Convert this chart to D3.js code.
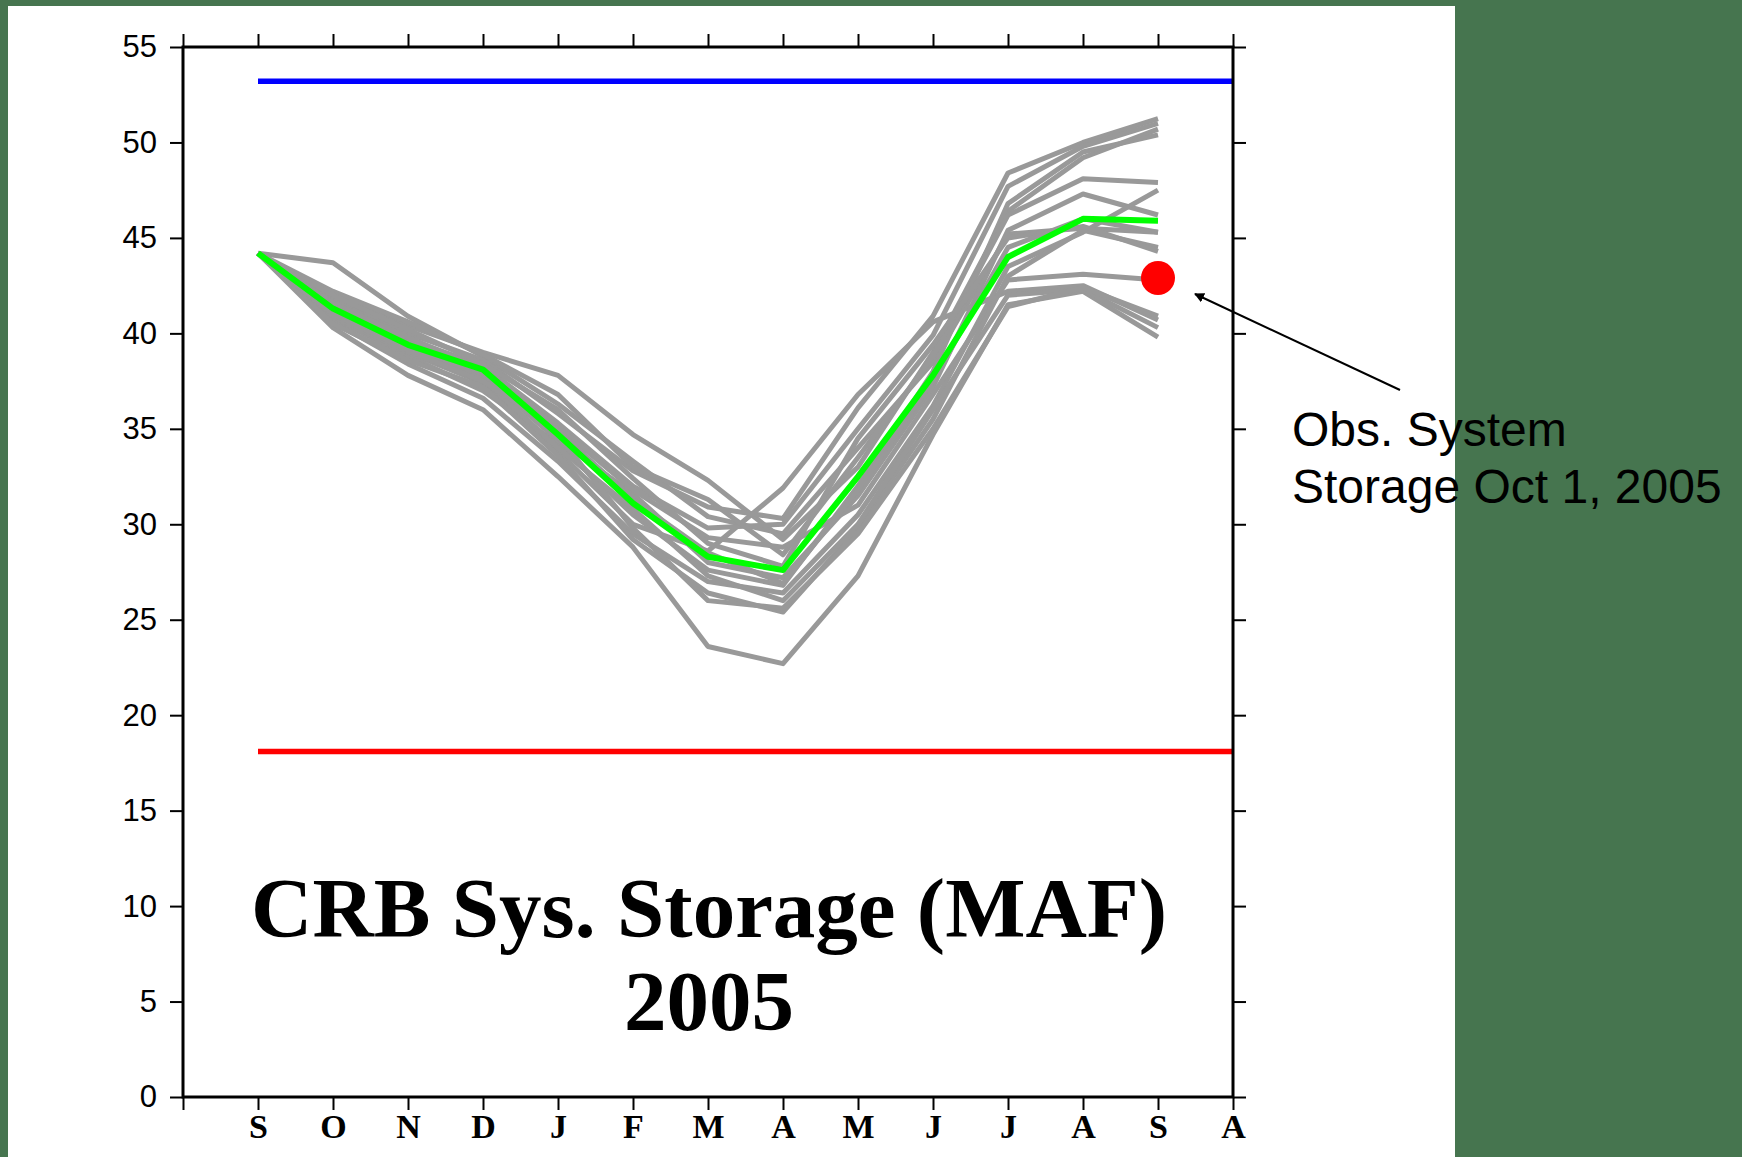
<!DOCTYPE html>
<html>
<head>
<meta charset="utf-8">
<script src="https://cdn.jsdelivr.net/npm/d3@7"></script>
<style>
  html, body { margin: 0; padding: 0; background: #46754f; }
  svg { display: block; }
</style>
</head>
<body>
<svg id="chart" width="1742" height="1157"></svg>
<script>
// Month labels along the x axis (Sep through the following Aug)
const months = ["S", "O", "N", "D", "J", "F", "M", "A", "M", "J", "J", "A", "S", "A"];
const yTicks = [0, 5, 10, 15, 20, 25, 30, 35, 40, 45, 50, 55];

// Ensemble traces of system storage (MAF), Sep .. Sep
const ens01 = [44.2, 43.7, 40.9, 38.8, 36.3, 33.3, 30.4, 29.5, 34.0, 38.5, 45.2, 45.5, 45.3];
const ens02 = [44.2, 42.0, 40.4, 39.0, 37.8, 34.7, 32.3, 29.2, 33.0, 39.0, 46.4, 49.2, 50.7];
const ens03 = [44.2, 40.3, 37.8, 36.0, 32.5, 28.8, 23.6, 22.7, 27.3, 34.7, 41.5, 42.2, 39.8];
const ens04 = [44.2, 41.0, 39.0, 37.4, 33.8, 30.0, 28.6, 31.9, 36.8, 40.6, 42.2, 42.5, 40.7];
const ens05 = [44.2, 41.8, 40.0, 38.6, 35.8, 32.8, 30.9, 30.3, 36.1, 40.9, 48.4, 50.0, 51.25];
const ens06 = [44.2, 41.5, 39.7, 38.3, 35.3, 32.0, 29.8, 30.0, 35.0, 39.9, 47.7, 49.8, 51.0];
const ens07 = [44.2, 40.8, 38.8, 37.0, 34.2, 30.5, 27.6, 26.8, 32.0, 38.0, 46.8, 49.5, 50.4];
const ens08 = [44.2, 42.2, 40.6, 38.9, 36.8, 33.0, 31.3, 28.4, 33.5, 38.8, 46.2, 48.1, 47.9];
const ens09 = [44.2, 41.2, 39.2, 37.8, 34.4, 31.6, 28.0, 27.2, 31.5, 37.2, 45.4, 47.3, 46.2];
const ens10 = [44.2, 40.6, 38.4, 36.6, 33.3, 29.5, 27.0, 26.4, 30.5, 36.2, 43.5, 45.3, 47.5];
const ens11 = [44.2, 41.6, 39.8, 38.1, 35.1, 31.8, 29.3, 28.8, 31.0, 36.8, 42.8, 43.1, 42.8];
const ens12 = [44.2, 40.5, 38.6, 37.2, 33.6, 29.2, 26.4, 25.4, 29.8, 35.5, 43.0, 45.4, 44.5];
const ens13 = [44.2, 40.9, 39.0, 37.6, 34.0, 30.8, 27.3, 26.0, 30.0, 36.0, 42.0, 42.3, 40.3];
const ens14 = [44.2, 41.4, 39.5, 38.0, 34.6, 29.8, 26.0, 25.6, 29.5, 35.0, 41.4, 42.4, 40.9];
const ens15 = [44.2, 42.0, 40.2, 38.4, 36.0, 32.4, 29.0, 27.8, 34.5, 39.4, 45.0, 45.6, 44.3];
const ens16 = [44.2, 41.0, 39.1, 37.5, 34.9, 31.3, 28.5, 26.9, 31.8, 37.5, 44.5, 46.0, 45.3];
const ensemble = [ens01, ens02, ens03, ens04, ens05, ens06, ens07, ens08,
                  ens09, ens10, ens11, ens12, ens13, ens14, ens15, ens16];

// Ensemble mean
const ensembleMean = [44.2, 41.3, 39.4, 38.1, 34.7, 31.1, 28.3, 27.6, 32.5, 37.8, 44.0, 46.0, 45.9];

// Reference levels (MAF)
const upperLevel = 53.2;
const lowerLevel = 18.1;
// Observed storage on Oct 1, 2005 (plotted at the final Sep position)
const observedIndex = 12;
const observedValue = 42.9;

const svg = d3.select("#chart");

// white page panel
svg.append("rect").attr("x", 8).attr("y", 6).attr("width", 1447).attr("height", 1151).attr("fill", "#ffffff");

const plotLeft = 183, plotRight = 1233, plotTop = 47, plotBottom = 1097;
const x = d3.scaleLinear().domain([0, 14]).range([plotLeft, plotRight]);
const y = d3.scaleLinear().domain([0, 55]).range([plotBottom, plotTop]);

const line = d3.line().x((d, i) => x(i + 1)).y(d => y(d));

// ensemble traces
svg.append("g").selectAll("path").data(ensemble).join("path")
  .attr("d", line)
  .attr("fill", "none")
  .attr("stroke", "#999999")
  .attr("stroke-width", 5)
  .attr("stroke-linejoin", "round");

// mean trace
svg.append("path").datum(ensembleMean)
  .attr("d", line)
  .attr("fill", "none")
  .attr("stroke", "#00ff00")
  .attr("stroke-width", 6)
  .attr("stroke-linejoin", "round");

// reference levels
svg.append("line")
  .attr("x1", x(1)).attr("x2", x(14))
  .attr("y1", y(upperLevel)).attr("y2", y(upperLevel))
  .attr("stroke", "#0000ff").attr("stroke-width", 5.5);
svg.append("line")
  .attr("x1", x(1)).attr("x2", x(14))
  .attr("y1", y(lowerLevel)).attr("y2", y(lowerLevel))
  .attr("stroke", "#ff0000").attr("stroke-width", 5.5);

// observed point
svg.append("circle")
  .attr("cx", x(observedIndex + 1)).attr("cy", y(observedValue)).attr("r", 17)
  .attr("fill", "#ff0000");

// axes (ticks outward on all four sides)
const yAxisL = svg.append("g").attr("transform", `translate(${plotLeft},0)`)
  .call(d3.axisLeft(y).tickValues(yTicks).tickSize(13).tickPadding(13).tickFormat(d3.format("d")));
const yAxisR = svg.append("g").attr("transform", `translate(${plotRight},0)`)
  .call(d3.axisRight(y).tickValues(yTicks).tickSize(13).tickFormat(""));
const xAxisB = svg.append("g").attr("transform", `translate(0,${plotBottom})`)
  .call(d3.axisBottom(x).tickValues(d3.range(0, 15)).tickSize(13)
    .tickFormat(i => i === 0 ? "" : months[i - 1]));
const xAxisT = svg.append("g").attr("transform", `translate(0,${plotTop})`)
  .call(d3.axisTop(x).tickValues(d3.range(0, 15)).tickSize(13).tickFormat(""));

[yAxisL, yAxisR, xAxisB, xAxisT].forEach(g => {
  g.select(".domain").remove();
  g.selectAll(".tick line").attr("stroke", "#000").attr("stroke-width", 2);
});

yAxisL.selectAll("text")
  .attr("font-family", "'Liberation Sans', Arial, Helvetica, sans-serif")
  .attr("font-size", 31)
  .attr("fill", "#000");

xAxisB.selectAll("text")
  .attr("font-family", "'Liberation Serif', 'Times New Roman', serif")
  .attr("font-weight", "bold")
  .attr("font-size", 34)
  .attr("fill", "#000")
  .attr("y", 41)
  .attr("dy", null);

// plot frame
svg.append("rect")
  .attr("x", plotLeft).attr("y", plotTop)
  .attr("width", plotRight - plotLeft).attr("height", plotBottom - plotTop)
  .attr("fill", "none").attr("stroke", "#000").attr("stroke-width", 3);

// chart title inside the frame
const title = svg.append("text")
  .attr("text-anchor", "middle")
  .attr("font-family", "'Liberation Serif', 'Times New Roman', serif")
  .attr("font-weight", "bold")
  .attr("font-size", 85)
  .attr("fill", "#000");
title.append("tspan").attr("x", 709).attr("y", 937).text("CRB Sys. Storage (MAF)");
title.append("tspan").attr("x", 709).attr("y", 1030).text("2005");

// annotation arrow pointing at the observed point
svg.append("defs").append("marker")
  .attr("id", "arrowhead")
  .attr("viewBox", "0 0 10 10")
  .attr("refX", 9).attr("refY", 5)
  .attr("markerWidth", 10).attr("markerHeight", 10)
  .attr("markerUnits", "userSpaceOnUse")
  .attr("orient", "auto")
  .append("path").attr("d", "M0,0 L10,5 L0,10 Z").attr("fill", "#000");

svg.append("line")
  .attr("x1", 1400).attr("y1", 390)
  .attr("x2", 1195).attr("y2", 294)
  .attr("stroke", "#000").attr("stroke-width", 2)
  .attr("marker-end", "url(#arrowhead)");

const note = svg.append("text")
  .attr("font-family", "'Liberation Sans', Arial, Helvetica, sans-serif")
  .attr("font-size", 48)
  .attr("fill", "#000");
note.append("tspan").attr("x", 1292).attr("y", 446).text("Obs. System");
note.append("tspan").attr("x", 1292).attr("y", 503).text("Storage Oct 1, 2005");
</script>
</body>
</html>
